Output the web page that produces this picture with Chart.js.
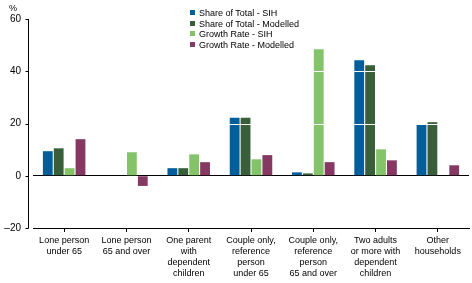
<!DOCTYPE html>
<html>
<head>
<meta charset="utf-8">
<script src="https://cdn.jsdelivr.net/npm/chart.js@4"></script>
<style>
  html, body { margin: 0; padding: 0; background: #fff; }
  #wrap { position: relative; width: 472px; height: 283px; }
  #legend { position: absolute; left: 190px; top: 8px; font: 9px "Liberation Sans", Arial, sans-serif; color: #000; }
  #legend div { height: 10.5px; line-height: 10.5px; white-space: nowrap; }
  #legend span { display: inline-block; width: 5px; height: 5px; margin-right: 4px; vertical-align: 1px; }
</style>
</head>
<body>
<div id="wrap">
  <canvas id="myBarChart" width="472" height="283"></canvas>
  <div id="legend"></div>
</div>
<script>
// household types
var categories = [
    ['Lone person', 'under 65'],
    ['Lone person', '65 and over'],
    ['One parent', 'with', 'dependent', 'children'],
    ['Couple only,', 'reference', 'person', 'under 65'],
    ['Couple only,', 'reference', 'person', '65 and over'],
    ['Two adults', 'or more with', 'dependent', 'children'],
    ['Other', 'households']
];

// series values (%)
var shareSIH = [9.4, null, 2.9, 22.2, 1.3, 44.2, 19.7];
var shareModelled = [10.5, null, 2.9, 22.2, 0.9, 42.3, 20.5];
var growthSIH = [2.9, 9.0, 8.2, 6.3, 48.4, 10.1, null];
var growthModelled = [14.0, -3.9, 5.2, 7.9, 5.2, 5.9, 4.0];

var seriesNames = ['Share of Total - SIH', 'Share of Total - Modelled', 'Growth Rate - SIH', 'Growth Rate - Modelled'];
var seriesColors = ['#005e9a', '#385f3a', '#83c46b', '#843862'];

var yTicks = [-20, 0, 20, 40, 60];

var FONT = '"Liberation Sans", Arial, sans-serif';
var AXIS_GAP = 5; // y axis line sits a little left of the plot area

// white lines over the bars, detached y axis line and the % unit
var extras = {
    id: 'extras',
    afterDatasetsDraw: function (chart) {
        var ctx = chart.ctx, y = chart.scales.y, area = chart.chartArea;
        ctx.save();
        ctx.strokeStyle = '#fff';
        ctx.lineWidth = 1;
        [20, 40].forEach(function (v) {
            var py = Math.round(y.getPixelForValue(v)) + 0.5;
            ctx.beginPath();
            ctx.moveTo(area.left, py);
            ctx.lineTo(area.right, py);
            ctx.stroke();
        });

        // y axis line with ticks on the left
        var ax = area.left - AXIS_GAP + 0.5;
        ctx.strokeStyle = '#000';
        ctx.beginPath();
        ctx.moveTo(ax, Math.round(area.top));
        ctx.lineTo(ax, Math.round(area.bottom) + 0.5);
        yTicks.forEach(function (v) {
            var py = Math.round(y.getPixelForValue(v)) + 0.5;
            ctx.moveTo(ax - 3, py);
            ctx.lineTo(ax, py);
        });
        ctx.stroke();

        ctx.fillStyle = '#000';
        ctx.font = '9px ' + FONT;
        ctx.textAlign = 'center';
        ctx.textBaseline = 'alphabetic';
        ctx.fillText('%', 13, 11);
        ctx.restore();
    }
};

var datasets = [shareSIH, shareModelled, growthSIH, growthModelled].map(function (vals, i) {
    return {
        label: seriesNames[i],
        data: vals,
        backgroundColor: seriesColors[i],
        barPercentage: 0.9,
        categoryPercentage: 0.7
    };
});

new Chart(document.getElementById('myBarChart').getContext('2d'), {
    type: 'bar',
    data: { labels: categories, datasets: datasets },
    options: {
        responsive: false,
        animation: false,
        layout: { padding: { top: 19, right: 3, left: 0, bottom: 0 } },
        plugins: { legend: { display: false }, tooltip: { enabled: false } },
        scales: {
            x: {
                grid: { display: true, drawOnChartArea: false, offset: false, tickLength: 4, color: '#000' },
                border: { display: true, color: '#000' },
                ticks: { color: '#000', font: { family: FONT, size: 9, lineHeight: 1.22 }, maxRotation: 0, autoSkip: false, padding: 3 },
                afterFit: function (s) { s.height = 55; }
            },
            y: {
                min: -20,
                max: 60,
                afterBuildTicks: function (s) { s.ticks = yTicks.map(function (v) { return { value: v }; }); },
                grid: {
                    color: function (c) { return c.tick && c.tick.value === 0 ? '#000' : 'rgba(0,0,0,0)'; },
                    tickColor: 'rgba(0,0,0,0)',
                    tickLength: 3
                },
                border: { display: false },
                ticks: {
                    color: '#000',
                    font: { family: FONT, size: 10 },
                    padding: 9,
                    callback: function (v) { return v < 0 ? '\u2013' + Math.abs(v) : v; }
                },
                afterFit: function (s) { s.width = 33; }
            }
        }
    },
    plugins: [extras]
});

// legend as a single column
var legend = document.getElementById('legend');
seriesNames.forEach(function (name, i) {
    var row = document.createElement('div');
    var box = document.createElement('span');
    box.style.background = seriesColors[i];
    row.appendChild(box);
    row.appendChild(document.createTextNode(name));
    legend.appendChild(row);
});
</script>
</body>
</html>
